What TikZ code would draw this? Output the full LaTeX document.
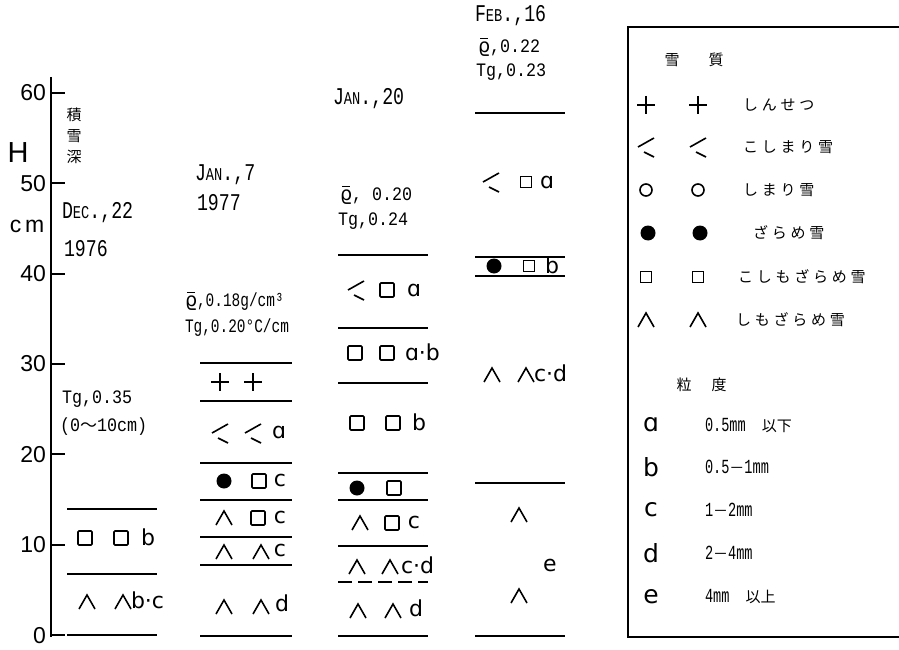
\documentclass[tikz,border=0pt]{standalone}
\usepackage{fontspec}
\setmainfont{Liberation Sans}
\newfontfamily\axisfont{Liberation Sans}
\newfontfamily\twfont[FakeStretch=0.88]{Liberation Mono}
\newfontfamily\twnarrow[FakeStretch=0.76]{Liberation Mono}
\newfontfamily\valfont[FakeStretch=0.68]{Liberation Mono}
\newfontfamily\letfont{DejaVu Sans}
\newfontfamily\cjk{Noto Sans CJK JP}
\newfontfamily\cjksp[LetterSpace=25]{Noto Sans CJK JP}
\newcommand{\fsz}[1]{\fontsize{#1}{#1}\selectfont}
\newcommand{\mysc}[1]{{\fsz{18}#1}}
\newcommand{\rhobar}{\makebox[0pt][l]{\hspace{0.12em}\raisebox{0.72em}{\rule{0.38em}{0.07em}}}{\letfont ϱ}}
\newcommand{\layerat}[3]{\draw[layerline] (#1,#3) -- (#2,#3);}
\tikzset{
  x=1pt, y=-1pt,
  every node/.style={inner sep=0pt, outer sep=0pt},
  axisline/.style={line width=1.8pt},
  layerline/.style={line width=1.6pt},
  symline/.style={line width=1.6pt},
  ticklab/.style={font=\axisfont\fsz{23}, anchor=east},
  datelab/.style={font=\twnarrow\fsz{24}, anchor=west},
  twlab/.style={font=\twfont\fsz{19}, anchor=west},
  twnlab/.style={font=\twnarrow\fsz{19}, anchor=west},
  lett/.style={font=\letfont\fsz{22}},
  leglett/.style={font=\letfont\fsz{25}},
  legtext/.style={font=\cjksp\fsz{15}, anchor=west},
  legval/.style={font=\valfont\fsz{20}, anchor=west},
  legtitle/.style={font=\cjk\fsz{15}},
  symsq/.pic={\draw[symline, rounded corners=1pt] (-7,-7) rectangle (7,7);},
  symsqs/.pic={\draw[symline] (-5.5,-5.5) rectangle (5.5,5.5);},
  symdot/.pic={\fill (0,0) circle (7.5);},
  symhat/.pic={\draw[symline] (-8,7) -- (0,-7) -- (8,7);},
  symlt/.pic={\draw[symline] (8,-9) -- (-8,0) (-2,5) -- (8,10);},
  symcross/.pic={\draw[symline] (-9,0) -- (9,0) (0,-9) -- (0,9);},
  symcirc/.pic={\draw[symline] (0,0) circle (6);},
}
\begin{document}
\begin{tikzpicture}
\useasboundingbox (0,0) rectangle (899,650);

% ---------- axis ----------
\draw[axisline] (51,77) -- (51,637);
\foreach \h in {0,...,6}{
  \pgfmathsetmacro\yy{635-90.33*\h}
  \draw[axisline] (51,\yy) -- (65,\yy);
}
\node[ticklab] (l60) at (46,93) {60};
\node[ticklab] (l50) at (46,184) {50};
\node[ticklab] (l40) at (46,274) {40};
\node[ticklab] (l30) at (46,364) {30};
\node[ticklab] (l20) at (46,455) {20};
\node[ticklab] (l10) at (46,545) {10};
\node[ticklab] (l0) at (46,636) {0};
\node[font=\axisfont\fsz{29}] (H) at (18,153) {H};
\node[font=\axisfont\fsz{23}] (cm) at (27,226) {c\,m};
\node[font=\cjk\fsz{15}, align=center] (sekisetsu) at (74,136) {積\\[6pt]雪\\[6pt]深};

% ---------- column 1 : Dec 22 1976 ----------
\node[datelab] (d1) at (62,213) {D\mysc{EC}.,22};
\node[datelab] (y1) at (64,249) {1976};
\node[twlab] (tg1) at (62,399) {Tg,0.35};
\node[twlab] (rg1) at (60,427) {(0{\cjk\fsz{17}〜}10cm)};
\layerat{67}{157}{509}
\layerat{67}{157}{574}
\layerat{67}{157}{635}
\pic at (85,538) {symsq};
\pic at (121,538) {symsq};
\node[lett] (c1b) at (148,537) {b};
\pic at (87,602) {symhat};
\pic at (123,602) {symhat};
\node[lett, anchor=west] (c1bc) at (131,600) {b·c};

% ---------- column 2 : Jan 7 1977 ----------
\node[datelab] (d2) at (195,175) {J\mysc{AN}.,7};
\node[datelab] (y2) at (197,203) {1977};
\node[twnlab] (rho2) at (185,301) {\rhobar,0.18g/cm³};
\node[twnlab] (tg2) at (185,328) {Tg,0.20°C/cm};
\layerat{200}{292}{363}
\layerat{200}{292}{401}
\layerat{200}{292}{463}
\layerat{200}{292}{500}
\layerat{200}{292}{537}
\layerat{200}{292}{565}
\layerat{200}{292}{636}
\pic at (220,382) {symcross};
\pic at (253,382) {symcross};
\pic at (220,433) {symlt};
\pic at (253,433) {symlt};
\node[lett] (c2a) at (279,432) {ɑ};
\pic at (224,481) {symdot};
\pic at (259,481) {symsq};
\node[lett] (c2c1) at (280,480) {c};
\pic at (224,518) {symhat};
\pic at (258,518) {symsq};
\node[lett] (c2c2) at (280,517) {c};
\pic at (224,552) {symhat};
\pic at (261,552) {symhat};
\node[lett] (c2c3) at (280,550) {c};
\pic at (224,607) {symhat};
\pic at (261,607) {symhat};
\node[lett] (c2d) at (282,603) {d};

% ---------- column 3 : Jan 20 ----------
\node[datelab] (d3) at (333,99) {J\mysc{AN}.,20};
\node[twlab] (rho3) at (340,195) {\rhobar, 0.20};
\node[twlab] (tg3) at (338,221) {Tg,0.24};
\layerat{338}{428}{255}
\layerat{338}{428}{328}
\layerat{338}{428}{383}
\layerat{338}{428}{473}
\layerat{338}{428}{500}
\layerat{338}{428}{546}
\draw[layerline, dash pattern=on 14pt off 6pt] (338,582) -- (428,582);
\layerat{338}{428}{636}
\pic at (356,290) {symlt};
\pic at (387,290) {symsq};
\node[lett] (c3a) at (414,290) {ɑ};
\pic at (355,353) {symsq};
\pic at (387,353) {symsq};
\node[lett, anchor=west] (c3ab) at (405,352) {ɑ·b};
\pic at (357,423) {symsq};
\pic at (393,423) {symsq};
\node[lett] (c3b) at (419,422) {b};
\pic at (357,488) {symdot};
\pic at (394,488) {symsq};
\pic at (360,523) {symhat};
\pic at (392,523) {symsq};
\node[lett] (c3c) at (414,522) {c};
\pic at (357,567) {symhat};
\pic at (390,567) {symhat};
\node[lett, anchor=west] (c3cd) at (401,565) {c·d};
\pic at (358,611) {symhat};
\pic at (393,611) {symhat};
\node[lett] (c3d) at (416,608) {d};

% ---------- column 4 : Feb 16 ----------
\node[datelab] (d4) at (475,16) {F\mysc{EB}.,16};
\node[twlab] (rho4) at (478,47) {\rhobar,0.22};
\node[twlab] (tg4) at (476,72) {Tg,0.23};
\layerat{475}{565}{113}
\layerat{475}{565}{257}
\layerat{475}{565}{276}
\layerat{475}{565}{483}
\layerat{475}{565}{636}
\pic at (491,182) {symlt};
\pic at (526,182) {symsqs};
\node[lett] (c4a) at (547,182) {ɑ};
\pic at (494,266) {symdot};
\pic at (529,266) {symsqs};
\node[lett] (c4b) at (552,265) {b};
\pic at (492,375) {symhat};
\pic at (526,375) {symhat};
\node[lett, anchor=west] (c4cd) at (534,373) {c·d};
\pic at (519,515) {symhat};
\node[lett] (c4e) at (550,565) {e};
\pic at (519,596) {symhat};

% ---------- legend ----------
\draw[layerline] (899,27) -- (628,27) -- (628,637) -- (899,637);
\node[legtitle] (lt1) at (672,60) {雪};
\node[legtitle] (lt2) at (716,60) {質};
\pic at (646,105) {symcross};
\pic at (698,105) {symcross};
\node[legtext] (k1) at (743,105) {しんせつ};
\pic at (646,147) {symlt};
\pic at (698,147) {symlt};
\node[legtext] (k2) at (743,147) {こしまり雪};
\pic at (646,190) {symcirc};
\pic at (698,190) {symcirc};
\node[legtext] (k3) at (743,190) {しまり雪};
\pic at (648,233) {symdot};
\pic at (700,233) {symdot};
\node[legtext] (k4) at (753,233) {ざらめ雪};
\pic at (646,277) {symsqs};
\pic at (698,277) {symsqs};
\node[legtext] (k5) at (738,277) {こしもざらめ雪};
\pic at (646,320) {symhat};
\pic at (698,320) {symhat};
\node[legtext] (k6) at (736,320) {しもざらめ雪};
\node[legtitle] (gt1) at (684,385) {粒};
\node[legtitle] (gt2) at (719,385) {度};
\node[leglett] (ga) at (651,425) {ɑ};
\node[legval] (va) at (705,425) {0.5mm \hspace{8pt}{\cjk\fsz{15}以下}};
\node[leglett] (gb) at (651,467) {b};
\node[legval] (vb) at (705,467) {0.5{\cjk\fsz{15}－}1mm};
\node[leglett] (gc) at (651,510) {c};
\node[legval] (vc) at (705,510) {1{\cjk\fsz{15}－}2mm};
\node[leglett] (gd) at (651,553) {d};
\node[legval] (vd) at (705,553) {2{\cjk\fsz{15}－}4mm};
\node[leglett] (ge) at (651,597) {e};
\node[legval] (ve) at (705,597) {4mm \hspace{8pt}{\cjk\fsz{15}以上}};
\end{tikzpicture}
\end{document}
